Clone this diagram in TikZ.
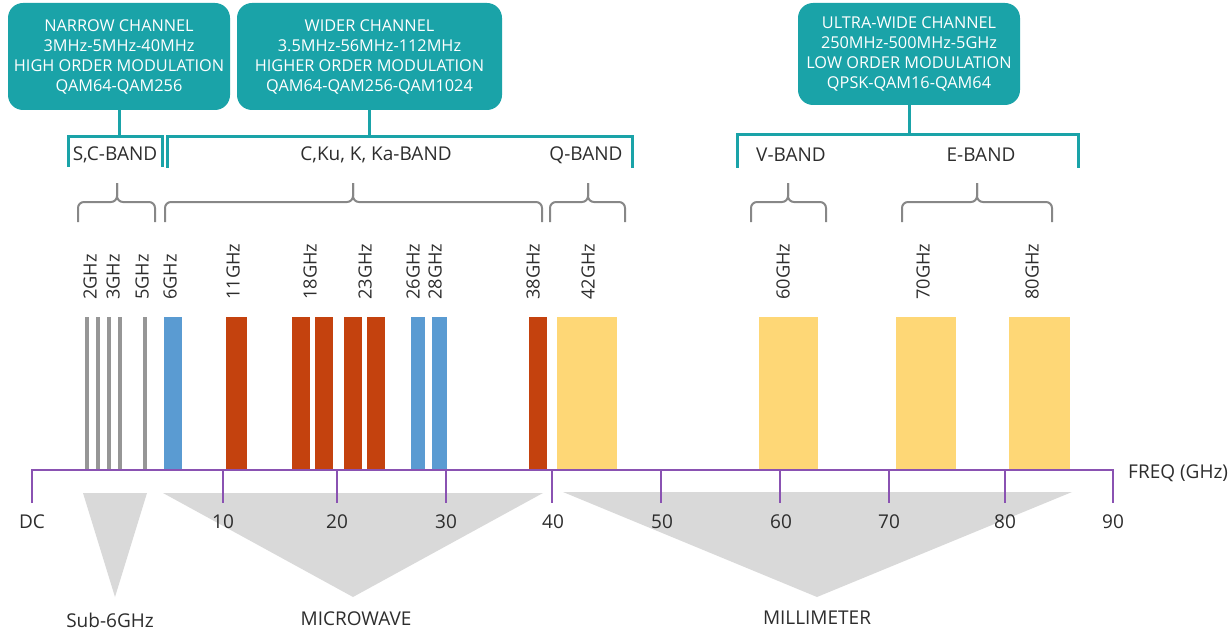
\documentclass[tikz,border=0pt]{standalone}
\usepackage{fontspec}
\setmainfont{Open Sans}
\definecolor{chanteal}{RGB}{26,163,168}
\definecolor{axispurple}{RGB}{138,82,178}
\definecolor{subgray}{RGB}{150,150,150}
\definecolor{bandblue}{RGB}{90,155,210}
\definecolor{bandred}{RGB}{196,66,14}
\definecolor{bandyellow}{RGB}{254,215,118}
\definecolor{regiongray}{RGB}{217,217,217}
\definecolor{bracegray}{RGB}{135,135,135}
\definecolor{labelgray}{RGB}{45,45,45}
\newcommand\bandbrace[3]{%
  \draw[bracestyle] (#1,222) -- (#1,202) -- (#2,202) -- (#2,183);
  \draw[bracestyle] (#3,222) -- (#3,202) -- (#2,202) -- (#2,183);
}
\begin{document}
\begin{tikzpicture}[x=1pt,y=-1pt,
  chanbox/.style={fill=chanteal, rounded corners=15pt, text=white,
    font=\fontsize{16.3}{20}\selectfont, align=center, inner sep=0pt,
    minimum height=107pt},
  tealline/.style={draw=chanteal, line width=3pt},
  bracestyle/.style={draw=bracegray, line width=2pt, rounded corners=6pt},
  bandlabel/.style={text=labelgray, font=\fontsize{19}{20}\selectfont, inner sep=0pt},
  freqlabel/.style={text=labelgray, font=\fontsize{18.2}{20}\selectfont, inner sep=0pt,
    rotate=90, anchor=west},
  ticklabel/.style={text=labelgray, font=\fontsize{19}{20}\selectfont, inner sep=0pt},
  axisline/.style={draw=axispurple, line width=2.5pt},
  subline/.style={draw=subgray, line width=4pt}
]
\useasboundingbox (0,0) rectangle (1230,631);

% channel boxes
\node[chanbox, minimum width=222pt] (narrow) at (119,56.5)
  {NARROW CHANNEL\\3MHz-5MHz-40MHz\\HIGH ORDER MODULATION\\QAM64-QAM256};
\node[chanbox, minimum width=265pt] (wider) at (369.5,56.5)
  {WIDER CHANNEL\\3.5MHz-56MHz-112MHz\\HIGHER ORDER MODULATION\\QAM64-QAM256-QAM1024};
\node[chanbox, minimum width=222pt, minimum height=102pt] (ultra) at (909,54)
  {ULTRA-WIDE CHANNEL\\250MHz-500MHz-5GHz\\LOW ORDER MODULATION\\QPSK-QAM16-QAM64};

% band groupings
\coordinate (scTop) at (119,137);
\coordinate (cqTop) at (369.5,137);
\coordinate (veTop) at (909,135);
\draw[tealline] (narrow.south) -- (scTop);
\draw[tealline] (wider.south) -- (cqTop);
\draw[tealline] (ultra.south) -- (veTop);
\draw[tealline] (68,167) -- (68,137) -- (162,137) -- (162,167);
\draw[tealline] (167,168) -- (167,137) -- (632,137) -- (632,168);
\draw[tealline] (737,168) -- (737,135) -- (1078,135) -- (1078,168);

\node[bandlabel] (scband) at (115,155) {S,C-BAND};
\node[bandlabel] (ckband) at (376,155) {C,Ku, K, Ka-BAND};
\node[bandlabel] (qband) at (586,155) {Q-BAND};
\node[bandlabel] (vband) at (791,155) {V-BAND};
\node[bandlabel] (eband) at (981,155) {E-BAND};

% braces
\bandbrace{78}{117}{155}
\bandbrace{165}{353}{542}
\bandbrace{550}{588}{625}
\bandbrace{751}{788}{826}
\bandbrace{902}{977}{1052}

% frequency labels
\foreach \x/\t in {90/2GHz,113/3GHz,142/5GHz,170/6GHz,233/11GHz,310/18GHz,
  365/23GHz,413/26GHz,435/28GHz,533/38GHz,588/42GHz,783/60GHz,923/70GHz,1032/80GHz}
  \node[freqlabel] at (\x,300) {\t};

% sub-6 GHz lines
\foreach \x in {87,98,109,120,145}
  \draw[subline] (\x,317) -- (\x,470);

% microwave bands
\fill[bandblue] (164,317) rectangle (182,470);
\fill[bandred] (226,317) rectangle (247,470);
\fill[bandred] (292,317) rectangle (310,470);
\fill[bandred] (315,317) rectangle (333,470);
\fill[bandred] (344,317) rectangle (362,470);
\fill[bandred] (367,317) rectangle (385,470);
\fill[bandblue] (411,317) rectangle (425,470);
\fill[bandblue] (432,317) rectangle (447,470);
\fill[bandred] (529,317) rectangle (547,470);

% millimeter bands
\fill[bandyellow] (557,317) rectangle (617,470);
\fill[bandyellow] (759,317) rectangle (818,470);
\fill[bandyellow] (896,317) rectangle (956,470);
\fill[bandyellow] (1009,317) rectangle (1070,470);

% region wedges
\fill[regiongray] (83,493) -- (147,493) -- (115,597) -- cycle;
\fill[regiongray] (163,493) -- (543,493) -- (353,597) -- cycle;
\fill[regiongray] (563,492) -- (1072,492) -- (817,597) -- cycle;
\node[bandlabel] (sub6) at (110,620) {Sub-6GHz};
\node[bandlabel] (micro) at (356,619) {MICROWAVE};
\node[bandlabel] (milli) at (817,618) {MILLIMETER};

% frequency axis
\draw[axisline, line join=miter] (32,503) -- (32,470) -- (1113,470) -- (1113,503);
\foreach \x in {223,337,446,552,661,780,889,1005}
  \draw[axisline] (\x,470) -- (\x,503);
\foreach \x/\t in {32/DC,223/10,337/20,446/30,553/40,662/50,781/60,889/70,1005/80,1113/90}
  \node[ticklabel] at (\x,522) {\t};
\node[ticklabel, anchor=west] (freq) at (1128,473) {FREQ (GHz)};
\end{tikzpicture}
\end{document}
